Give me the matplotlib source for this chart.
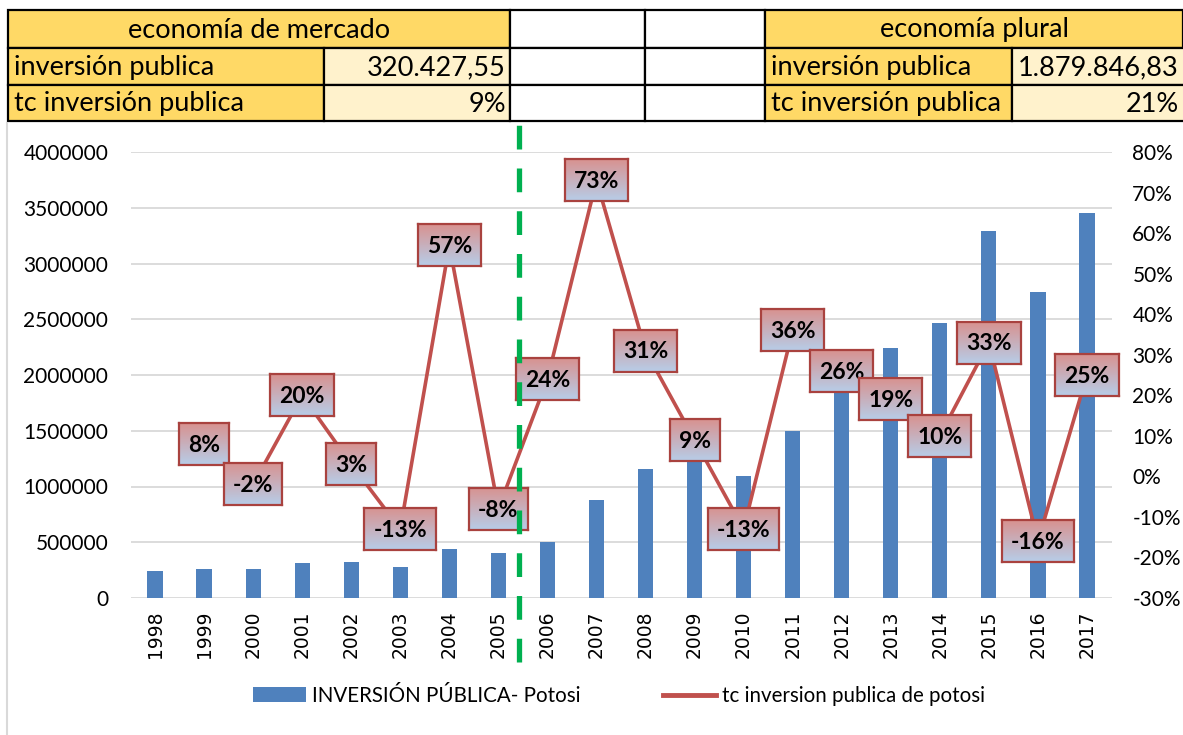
import numpy as np
import matplotlib
matplotlib.use('Agg')
import matplotlib.pyplot as plt
from matplotlib.patches import Rectangle, Patch
from matplotlib.lines import Line2D

plt.rcParams['font.family'] = ['Lato', 'DejaVu Sans']

# data
years = [str(y) for y in range(1998, 2018)]
inversion = [243000, 263000, 257000, 311000, 320000, 278000, 443000, 407000,
             506000, 883000, 1157000, 1261000, 1098000, 1495000, 1884000,
             2240000, 2467000, 3288000, 2748000, 3449000]
tc = [np.nan, 8, -2, 20, 3, -13, 57, -8, 24, 73, 31, 9, -13, 36, 26, 19,
      10, 33, -16, 25]

tabla_mercado = ['economía de mercado', 'inversión publica', '320.427,55',
                 'tc inversión publica', '9%']
tabla_plural = ['economía plural', 'inversión publica', '1.879.846,83',
                'tc inversión publica', '21%']

W, H = 1183, 735
fig = plt.figure(figsize=(W / 100, H / 100), dpi=100)


def fx(x):
    return x / W


def fy(y):
    return 1 - y / H


# ---- table at the top (pixel coords from top-left)
GOLD = '#FFD966'
LIGHT = '#FFF2CC'
rows = [10, 48, 85, 121]
TFS = 19.5


def cell(x0, x1, r, color, text=None, align='left'):
    y0, y1 = rows[r], rows[r + 1]
    fig.add_artist(Rectangle((fx(x0), fy(y1)), fx(x1 - x0), (y1 - y0) / H,
                             transform=fig.transFigure, facecolor=color,
                             edgecolor='black', linewidth=1.6, zorder=1))
    if text is None:
        return
    ym = fy((y0 + y1) / 2 + 1)
    if align == 'left':
        fig.text(fx(x0 + 6), ym, text, ha='left', va='center', fontsize=TFS)
    elif align == 'right':
        fig.text(fx(min(x1, W) - 4), ym, text, ha='right', va='center', fontsize=TFS)
    else:
        fig.text(fx((x0 + min(x1, W)) / 2), ym, text, ha='center', va='center', fontsize=TFS)


cell(7.5, 510, 0, GOLD, tabla_mercado[0], 'center')
cell(7.5, 324, 1, GOLD, tabla_mercado[1])
cell(324, 510, 1, LIGHT, tabla_mercado[2], 'right')
cell(7.5, 324, 2, GOLD, tabla_mercado[3])
cell(324, 510, 2, LIGHT, tabla_mercado[4], 'right')
for r in range(3):
    cell(510, 645, r, 'white')
    cell(645, 765, r, 'white')
cell(765, 1183, 0, GOLD, tabla_plural[0], 'center')
cell(765, 1012, 1, GOLD, tabla_plural[1])
cell(1012, 1190, 1, LIGHT, tabla_plural[2], 'right')
cell(765, 1012, 2, GOLD, tabla_plural[3])
cell(1012, 1190, 2, LIGHT, tabla_plural[4], 'right')

# chart area left border
fig.add_artist(Line2D([fx(7), fx(7)], [fy(123), 0], transform=fig.transFigure,
                      color='#D9D9D9', lw=1.5))

# ---- main chart
ax = fig.add_axes([fx(130.5), 137 / H, 981 / W, 446 / H])
x = np.arange(len(years))
ax.bar(x, inversion, width=0.31, color='#4F81BD', zorder=2)
ax.set_xlim(-0.5, len(years) - 0.5)
ax.set_ylim(0, 4000000)
ax.set_yticks(np.arange(0, 4000001, 500000))
ax.set_yticklabels([str(v) for v in range(0, 4000001, 500000)])
ax.grid(axis='y', color='#D9D9D9', lw=1.3)
ax.set_axisbelow(True)
ax.set_xticks(x)
ax.set_xticklabels(years, rotation=90, fontsize=13.5, family='DejaVu Sans')
ax.tick_params(axis='x', length=0, pad=9)
ax.tick_params(axis='y', length=0, pad=16, labelsize=15)
for s in ax.spines.values():
    s.set_visible(False)

ax2 = ax.twinx()
ax2.plot(x, tc, color='#C0504D', lw=2.6, zorder=3)
ax2.set_ylim(-30, 80)
ax2.set_yticks(range(-30, 81, 10))
ax2.set_yticklabels([f'{v}%' for v in range(-30, 81, 10)])
ax2.tick_params(axis='y', length=0, pad=15, labelsize=15)
for s in ax2.spines.values():
    s.set_visible(False)

# ---- data labels with gradient boxes
renderer = fig.canvas.get_renderer()
top = np.array([216, 146, 144]) / 255
bot = np.array([183, 205, 232]) / 255
t = np.linspace(0, 1, 64)[:, None]
grad = (top * (1 - t) + bot * t)[:, None, :]
BOX_H = 42
LFS = 16.5
for i, v in enumerate(tc):
    if np.isnan(v):
        continue
    label = f'{v}%'
    cx, cy = ax2.transData.transform((i, v))
    tmp = fig.text(0, 0, label, fontsize=LFS, weight='bold')
    tw = tmp.get_window_extent(renderer).width
    tmp.remove()
    bw = tw + 18
    bax = fig.add_axes([(cx - bw / 2) / W, (cy - BOX_H / 2) / H, bw / W, BOX_H / H])
    bax.imshow(grad, aspect='auto', extent=(0, 1, 0, 1))
    bax.set_xticks([])
    bax.set_yticks([])
    for s in bax.spines.values():
        s.set_color('#A9423F')
        s.set_linewidth(1.6)
    bax.text(0.5, 0.47, label, transform=bax.transAxes, ha='center', va='center',
             fontsize=LFS, weight='bold', color='black')

# ---- dashed divider between 2005 and 2006
dx, _ = ax.transData.transform((7.42, 0))
fig.add_artist(Line2D([dx / W, dx / W], [fy(662), fy(123)], transform=fig.transFigure,
                      color='#00B050', lw=3.8, linestyle=(0, (4.5, 3.6)), zorder=5))

# ---- legend
handles = [Patch(facecolor='#4F81BD'), Line2D([], [], color='#C0504D', lw=3.5)]
fig.legend(handles, ['INVERSIÓN PÚBLICA- Potosi', 'tc inversion publica de potosi'],
           loc='center', bbox_to_anchor=(fx(619), fy(696)), ncol=2, frameon=False,
           fontsize=14.8, handlelength=2.6, handleheight=0.75, handletextpad=0.3,
           columnspacing=4.0)

fig.savefig('out.png', dpi=100)
